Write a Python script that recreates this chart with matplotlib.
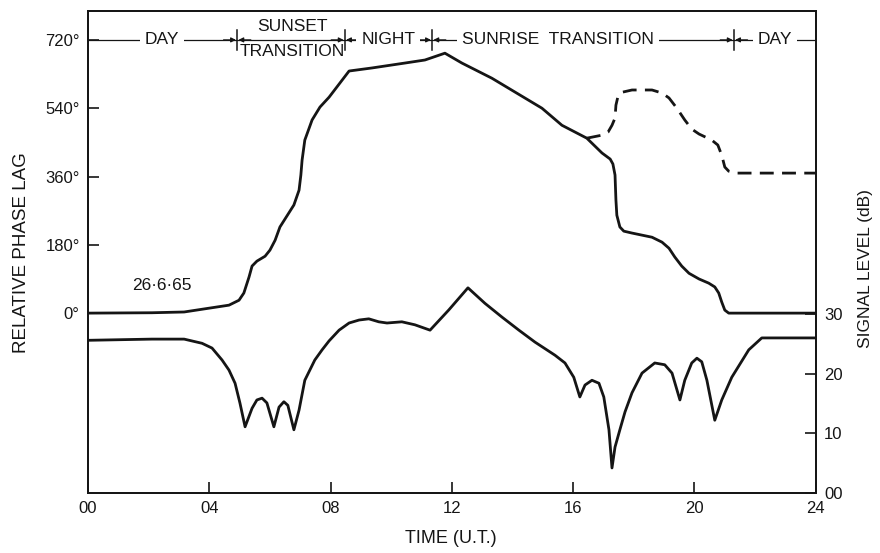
import matplotlib
matplotlib.use('Agg')
import matplotlib.pyplot as plt

plt.rcParams['font.family'] = ['Liberation Sans', 'DejaVu Sans']

# phase lag (solid), hours vs degrees
phase_t = [0.0, 2.11, 3.17, 3.99, 4.65, 4.98, 5.14, 5.31, 5.41, 5.57, 5.84, 6.0, 6.17,
           6.33, 6.56, 6.79, 6.96, 7.02, 7.06, 7.15, 7.39, 7.65, 7.95, 8.61, 9.36,
           10.45, 11.11, 11.77, 12.33, 13.32, 14.97, 15.63, 16.45, 16.95, 17.22, 17.31,
           17.38, 17.41, 17.44, 17.54, 17.67, 17.94, 18.6, 18.93, 19.16, 19.35, 19.58,
           19.82, 20.15, 20.47, 20.67, 20.8, 20.9, 21.0, 21.13, 24.0]
phase_deg = [0, 1, 3, 13, 21, 34, 53, 95, 124, 137, 150, 166, 192,
             227, 256, 285, 324, 364, 403, 456, 509, 543, 569, 638, 646,
             659, 667, 685, 659, 619, 540, 495, 461, 422, 406, 393,
             364, 298, 258, 227, 216, 211, 200, 187, 171, 148, 124,
             105, 90, 79, 69, 53, 29, 8, 0, 0]

# alternative phase branch (dashed)
alt_t = [16.45, 16.95, 17.15, 17.28, 17.38, 17.41, 17.48, 17.61, 17.94, 18.6, 18.93,
         19.16, 19.42, 19.68, 19.91, 20.15, 20.57, 20.77, 20.9, 21.0, 21.13, 21.4, 24.0]
alt_deg = [461, 469, 477, 495, 514, 548, 572, 582, 588, 588, 580,
           567, 540, 509, 485, 472, 456, 443, 416, 385, 374, 369, 369]

# signal level, hours vs dB
sig_t = [0.0, 2.11, 3.17, 3.76, 4.09, 4.42, 4.65, 4.85, 5.01, 5.18, 5.41, 5.57, 5.74,
         5.9, 6.13, 6.3, 6.46, 6.59, 6.79, 6.96, 7.15, 7.48, 7.72, 7.95, 8.28, 8.61,
         8.94, 9.26, 9.59, 9.86, 10.35, 10.78, 11.28, 11.9, 12.53, 13.09, 13.65, 14.21,
         14.74, 15.4, 15.73, 16.02, 16.22, 16.39, 16.62, 16.85, 17.01, 17.18, 17.28,
         17.38, 17.54, 17.71, 17.94, 18.27, 18.69, 19.02, 19.26, 19.52, 19.68, 19.91,
         20.08, 20.24, 20.41, 20.67, 20.9, 21.23, 21.79, 22.22, 22.55, 24.0]
sig_db = [25.6, 25.8, 25.8, 25.1, 24.3, 22.3, 20.6, 18.4, 15.1, 11.1, 14.2, 15.6, 15.9,
          15.1, 11.1, 14.4, 15.3, 14.7, 10.6, 13.9, 18.9, 22.3, 24.0, 25.5, 27.3, 28.5,
          29.0, 29.2, 28.7, 28.5, 28.7, 28.2, 27.3, 30.7, 34.4, 31.8, 29.5, 27.3,
          25.3, 23.1, 21.8, 19.4, 16.1, 18.1, 18.9, 18.4, 16.1, 10.6, 4.2,
          7.7, 10.6, 13.6, 16.8, 20.1, 21.8, 21.5, 20.1, 15.6, 18.9, 21.8,
          22.6, 22.0, 18.9, 12.2, 15.6, 19.4, 24.0, 26.0, 26.0, 26.0]

x_ticks = [0, 4, 8, 12, 16, 20, 24]
x_labels = ['00', '04', '08', '12', '16', '20', '24']
phase_ticks = [0, 180, 360, 540, 720]
phase_labels = ['0°', '180°', '360°', '540°', '720°']
db_ticks = [0, 10, 20, 30]
db_labels = ['00', '10', '20', '30']

# period boundaries and labels along the 720 deg line
bounds = [4.92, 8.47, 11.35, 21.3]
periods = [(2.45, 'DAY'), (9.9, 'NIGHT'), (15.5, 'SUNRISE  TRANSITION'), (22.65, 'DAY')]

ink = '#151515'

fig = plt.figure(figsize=(8.8, 5.53), dpi=100)
ax = fig.add_axes([0.1, 0.1085, 0.827, 0.8715])
ax2 = ax.twinx()

ax.plot(phase_t, phase_deg, color=ink, lw=2.0, solid_joinstyle='round')
ax.plot(alt_t, alt_deg, color=ink, lw=2.0, dashes=(5, 3))
ax2.plot(sig_t, sig_db, color=ink, lw=2.0, solid_joinstyle='round')

ax.set_xlim(0, 24)
ax.set_ylim(-474, 796)
ax2.set_ylim(0, 80.8)

ax.set_xticks(x_ticks)
ax.set_xticklabels(x_labels)
ax.set_yticks(phase_ticks)
ax.set_yticklabels(phase_labels)
ax2.set_yticks(db_ticks)
ax2.set_yticklabels(db_labels)

ax.tick_params(axis='both', direction='in', length=8, width=1.2, labelsize=12,
               colors=ink, pad=6)
ax2.tick_params(axis='y', direction='in', length=8, width=1.2, labelsize=12,
                colors=ink, pad=6)
for a in (ax, ax2):
    for s in a.spines.values():
        s.set_linewidth(1.3)
        s.set_color(ink)

# period bar
ax.plot([0, 24], [720, 720], color=ink, lw=0.9, zorder=1)
for b in bounds:
    ax.plot([b, b], [694, 746], color=ink, lw=1.1)
    ax.annotate('', xy=(b - 0.04, 720), xytext=(b - 0.45, 720),
                arrowprops=dict(arrowstyle='-|>', color=ink, lw=0.9,
                                mutation_scale=7, shrinkA=0, shrinkB=0))
    ax.annotate('', xy=(b + 0.04, 720), xytext=(b + 0.45, 720),
                arrowprops=dict(arrowstyle='-|>', color=ink, lw=0.9,
                                mutation_scale=7, shrinkA=0, shrinkB=0))
for x, name in periods:
    ax.text(x, 720, name, ha='center', va='center', fontsize=12.5, color=ink,
            bbox=dict(facecolor='white', edgecolor='none', pad=3.5), zorder=3)
ax.text(6.73, 754, 'SUNSET', ha='center', va='center', fontsize=12.5, color=ink)
ax.text(6.73, 690, 'TRANSITION', ha='center', va='center', fontsize=12.5, color=ink)

ax.text(2.45, 74, '26·6·65', ha='center', va='center', fontsize=12.5, color=ink)

fig.text(0.025, 0.544, 'RELATIVE PHASE LAG', rotation=90, ha='center', va='center',
         fontsize=13.5, color=ink)
fig.text(0.984, 0.515, 'SIGNAL LEVEL (dB)', rotation=90, ha='center', va='center',
         fontsize=12.5, color=ink)
fig.text(0.512, 0.027, 'TIME (U.T.)', ha='center', va='center', fontsize=13, color=ink)

fig.savefig('out.png', dpi=100)
